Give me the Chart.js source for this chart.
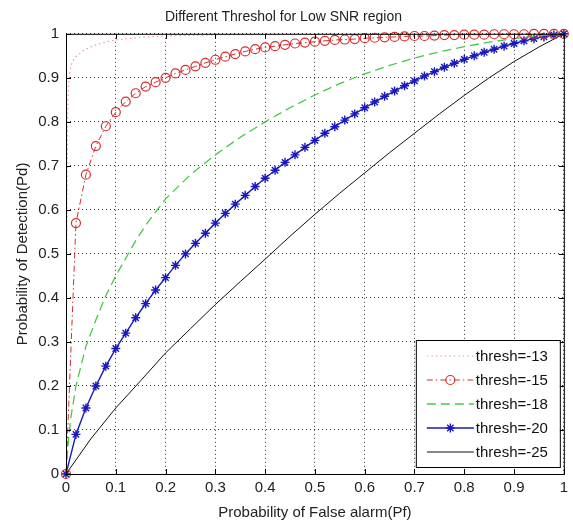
<!DOCTYPE html>
<html>
<head>
<meta charset="utf-8">
<script src="https://cdn.jsdelivr.net/npm/chart.js@4"></script>
<style>
  html, body { margin: 0; padding: 0; background: #fff; }
  #wrap { width: 573px; height: 522px; }
</style>
</head>
<body>
<div id="wrap"><canvas id="roc"></canvas></div>
<script>
// Legend labels, one per curve
const seriesNames = ['thresh=-13', 'thresh=-15', 'thresh=-18', 'thresh=-20', 'thresh=-25'];

// thresh=-13 (dotted, no markers)
const pf13 = [0, 0.001, 0.002, 0.003, 0.005, 0.008, 0.012, 0.02, 0.035, 0.055, 0.075, 0.1, 0.15, 0.2, 0.3, 0.4, 0.5, 0.7, 1];
const pd13 = [0, 0.4, 0.65, 0.8, 0.88, 0.915, 0.935, 0.948, 0.962, 0.973, 0.98, 0.986, 0.992, 0.995, 0.998, 0.999, 1, 1, 1];

// Pf sample points used by the marker curves (thresh=-15 and thresh=-20)
const pfGrid = [0, 0.02, 0.04, 0.06, 0.08, 0.1, 0.12, 0.14, 0.16, 0.18,
  0.2, 0.22, 0.24, 0.26, 0.28, 0.3, 0.32, 0.34, 0.36, 0.38,
  0.4, 0.42, 0.44, 0.46, 0.48, 0.5, 0.52, 0.54, 0.56, 0.58,
  0.6, 0.62, 0.64, 0.66, 0.68, 0.7, 0.72, 0.74, 0.76, 0.78,
  0.8, 0.82, 0.84, 0.86, 0.88, 0.9, 0.92, 0.94, 0.96, 0.98, 1];

// thresh=-15 (dash-dot with circles)
const pd15 = [0, 0.57, 0.68, 0.745, 0.79, 0.822, 0.846, 0.865, 0.88, 0.89,
  0.9, 0.91, 0.918, 0.926, 0.934, 0.941, 0.948, 0.954, 0.96, 0.965,
  0.969, 0.972, 0.975, 0.978, 0.98, 0.982, 0.984, 0.986, 0.987, 0.988,
  0.99, 0.991, 0.992, 0.993, 0.994, 0.995, 0.995, 0.996, 0.997, 0.997,
  0.998, 0.998, 0.998, 0.999, 0.999, 0.999, 0.999, 1, 1, 1, 1];

// thresh=-18 (dashed)
const pf18 = [0, 0.005, 0.01, 0.02, 0.04, 0.06, 0.08, 0.1, 0.12, 0.14, 0.16, 0.18, 0.2, 0.25, 0.3,
  0.35, 0.4, 0.45, 0.5, 0.55, 0.6, 0.65, 0.7, 0.75, 0.8, 0.85, 0.9, 0.95, 1];
const pd18 = [0, 0.08, 0.13, 0.2, 0.29, 0.35, 0.405, 0.45, 0.49, 0.53, 0.565, 0.595, 0.625, 0.68, 0.725,
  0.765, 0.8, 0.832, 0.861, 0.887, 0.909, 0.928, 0.945, 0.959, 0.971, 0.981, 0.989, 0.995, 1];

// thresh=-20 (solid with stars)
const pd20 = [0, 0.09, 0.15, 0.2, 0.245, 0.285, 0.32, 0.355, 0.387, 0.418,
  0.446, 0.474, 0.5, 0.524, 0.547, 0.57, 0.592, 0.613, 0.633, 0.653,
  0.672, 0.69, 0.708, 0.725, 0.742, 0.758, 0.774, 0.789, 0.804, 0.818,
  0.832, 0.845, 0.858, 0.87, 0.882, 0.893, 0.904, 0.914, 0.924, 0.933,
  0.942, 0.95, 0.958, 0.965, 0.972, 0.978, 0.984, 0.989, 0.993, 0.997, 1];

// thresh=-25 (solid black)
const pf25 = [0, 0.05, 0.1, 0.15, 0.2, 0.25, 0.3, 0.35, 0.4, 0.45, 0.5, 0.55, 0.6, 0.65, 0.7, 0.75, 0.8, 0.85, 0.9, 0.95, 1];
const pd25 = [0, 0.08, 0.15, 0.212, 0.275, 0.33, 0.385, 0.437, 0.488, 0.54, 0.59, 0.638, 0.684, 0.73, 0.774, 0.818, 0.86, 0.9, 0.937, 0.97, 1];

// Tick values and labels shared by both axes
const axisTicks = [0, 0.1, 0.2, 0.3, 0.4, 0.5, 0.6, 0.7, 0.8, 0.9, 1];
const tickLabels = ['0', '0.1', '0.2', '0.3', '0.4', '0.5', '0.6', '0.7', '0.8', '0.9', '1'];

const FONT = '"Liberation Sans", Arial, sans-serif';

function toPoints(xs, ys) {
  return xs.map((x, i) => ({ x: x, y: ys[i] }));
}

function tickText(value, index) {
  return tickLabels[index];
}

// Box around the axes plus small inward ticks, like a MATLAB figure
const framePlugin = {
  id: 'frame',
  afterDatasetsDraw(chart) {
    const { ctx, chartArea: a, scales } = chart;
    ctx.save();
    ctx.strokeStyle = '#000';
    ctx.lineWidth = 1;
    ctx.setLineDash([]);
    ctx.strokeRect(a.left + 0.5, a.top + 0.5, a.right - a.left, a.bottom - a.top);
    const len = 5;
    ctx.beginPath();
    axisTicks.forEach(v => {
      const px = Math.round(scales.x.getPixelForValue(v)) + 0.5;
      ctx.moveTo(px, a.bottom); ctx.lineTo(px, a.bottom - len);
      ctx.moveTo(px, a.top); ctx.lineTo(px, a.top + len);
      const py = Math.round(scales.y.getPixelForValue(v)) + 0.5;
      ctx.moveTo(a.left, py); ctx.lineTo(a.left + len, py);
      ctx.moveTo(a.right, py); ctx.lineTo(a.right - len, py);
    });
    ctx.stroke();
    ctx.restore();
  }
};

// Legend box in the lower right of the plot
const boxLegend = {
  id: 'boxLegend',
  afterDraw(chart) {
    const { ctx, chartArea: a } = chart;
    const w = 144, h = 127;
    const x0 = a.right - 4 - w, y0 = a.bottom - 7 - h;
    ctx.save();
    ctx.fillStyle = '#fff';
    ctx.fillRect(x0, y0, w, h);
    ctx.strokeStyle = '#000';
    ctx.lineWidth = 1;
    ctx.setLineDash([]);
    ctx.strokeRect(x0 + 0.5, y0 + 0.5, w, h);
    chart.data.datasets.forEach((ds, i) => {
      const y = y0 + 16 + i * 24;
      const lx0 = x0 + 11, lx1 = x0 + 58;
      ctx.strokeStyle = ds.borderColor;
      ctx.lineWidth = ds.borderWidth;
      ctx.setLineDash(ds.borderDash || []);
      ctx.beginPath();
      ctx.moveTo(lx0, y); ctx.lineTo(lx1, y);
      ctx.stroke();
      ctx.setLineDash([]);
      if (ds.pointRadius > 0) {
        ctx.strokeStyle = ds.pointBorderColor;
        ctx.fillStyle = 'rgba(0,0,0,0)';
        ctx.lineWidth = ds.pointBorderWidth || 1;
        Chart.helpers.drawPoint(ctx, {
          pointStyle: ds.pointStyle,
          radius: ds.pointRadius,
          borderWidth: ds.pointBorderWidth || 1
        }, (lx0 + lx1) / 2, y);
      }
      ctx.fillStyle = '#111';
      ctx.font = '15px ' + FONT;
      ctx.textBaseline = 'middle';
      ctx.fillText(seriesNames[i], lx1 + 2, y + 1);
    });
    ctx.restore();
  }
};

new Chart(document.getElementById('roc'), {
  type: 'scatter',
  data: {
    datasets: [
      {
        label: seriesNames[0],
        data: toPoints(pf13, pd13),
        showLine: true,
        borderColor: 'rgb(235,150,180)',
        borderWidth: 1.2,
        borderDash: [1.5, 3],
        pointRadius: 0
      },
      {
        label: seriesNames[1],
        data: toPoints(pfGrid, pd15),
        showLine: true,
        borderColor: 'rgb(215,45,45)',
        borderWidth: 1,
        borderDash: [6, 3, 1.5, 3],
        pointStyle: 'circle',
        pointRadius: 4.5,
        pointBorderWidth: 1.2,
        pointBackgroundColor: 'rgba(0,0,0,0)',
        pointBorderColor: 'rgb(215,45,45)',
        clip: false
      },
      {
        label: seriesNames[2],
        data: toPoints(pf18, pd18),
        showLine: true,
        borderColor: 'rgb(70,200,70)',
        borderWidth: 1.3,
        borderDash: [9, 5],
        pointRadius: 0
      },
      {
        label: seriesNames[3],
        data: toPoints(pfGrid, pd20),
        showLine: true,
        borderColor: 'rgb(25,25,190)',
        borderWidth: 1.4,
        pointStyle: 'star',
        pointRadius: 4.5,
        pointBorderWidth: 1.4,
        pointBorderColor: 'rgb(25,25,190)',
        clip: false
      },
      {
        label: seriesNames[4],
        data: toPoints(pf25, pd25),
        showLine: true,
        borderColor: '#111',
        borderWidth: 1,
        pointRadius: 0
      }
    ]
  },
  options: {
    responsive: true,
    maintainAspectRatio: false,
    animation: false,
    layout: { padding: { top: 0, right: 6, left: 0, bottom: 0 } },
    elements: { line: { tension: 0 } },
    plugins: {
      legend: { display: false },
      tooltip: { enabled: false },
      title: {
        display: true,
        text: 'Different Threshol for Low SNR region',
        color: '#222',
        font: { family: FONT, size: 14, weight: 'normal' },
        padding: { top: 9, bottom: 8 }
      }
    },
    scales: {
      x: {
        type: 'linear',
        min: 0,
        max: 1,
        afterFit(scale) { scale.height = 48; },
        afterBuildTicks(scale) { scale.ticks = axisTicks.map(v => ({ value: v })); },
        ticks: { color: '#222', font: { family: FONT, size: 15 }, padding: 5, callback: tickText },
        grid: { color: '#333', lineWidth: 1, drawTicks: false },
        border: { display: false, dash: [1, 3] },
        title: {
          display: true,
          text: 'Probability of False alarm(Pf)',
          color: '#222',
          font: { family: FONT, size: 15 },
          padding: { top: 2, bottom: 0 }
        }
      },
      y: {
        type: 'linear',
        min: 0,
        max: 1,
        afterFit(scale) { scale.width = 66; },
        afterBuildTicks(scale) { scale.ticks = axisTicks.map(v => ({ value: v })); },
        ticks: { color: '#222', font: { family: FONT, size: 15 }, padding: 7, callback: tickText },
        grid: { color: '#333', lineWidth: 1, drawTicks: false },
        border: { display: false, dash: [1, 3] },
        title: {
          display: true,
          text: 'Probability of Detection(Pd)',
          color: '#222',
          font: { family: FONT, size: 15 },
          padding: { top: 14, bottom: 0 }
        }
      }
    }
  },
  plugins: [framePlugin, boxLegend]
});
</script>
</body>
</html>
